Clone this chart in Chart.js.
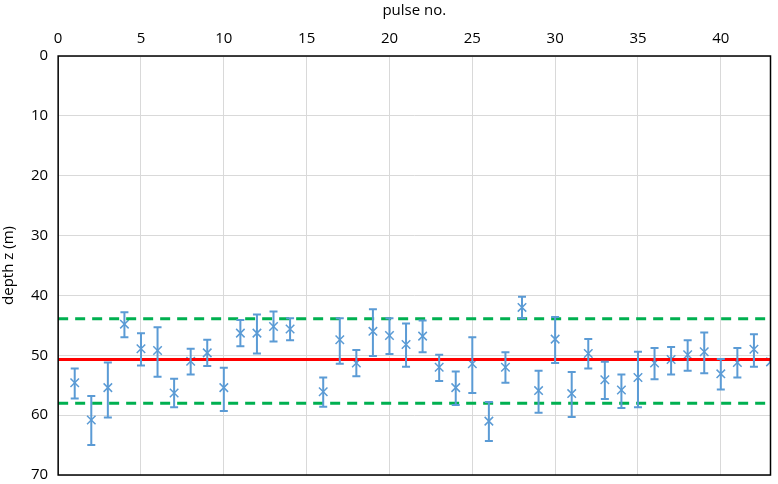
<!DOCTYPE html>
<html>
<head>
<meta charset="utf-8">
<script src="https://cdn.jsdelivr.net/npm/chart.js@4"></script>
<style>
  html, body { margin: 0; padding: 0; background: #fff; }
  #wrap { width: 778px; height: 484px; }
</style>
</head>
<body>
<div id="wrap"><canvas id="depthChart"></canvas></div>
<script>
const pulses = [1,2,3,4,5,6,7,8,9,10,11,12,13,14,16,17,18,19,20,21,22,23,24,25,26,27,28,29,30,31,32,33,34,35,36,37,38,39,40,41,42,43]
const depth = [54.6,60.8,55.4,44.8,48.9,49.2,56.3,51.0,49.6,55.4,46.3,46.3,45.2,45.6,56.1,47.4,51.3,46.0,46.7,48.2,46.8,52.0,55.4,51.4,61.0,52.0,42.0,55.9,47.3,56.4,49.7,54.1,55.8,53.7,51.3,50.7,49.9,49.4,53.1,51.2,49.0,51.1]
const depthTop = [52.2,56.8,51.2,42.8,46.3,45.3,53.9,48.9,47.4,52.1,44.1,43.2,42.7,43.8,53.7,43.8,49.1,42.3,43.8,44.7,44.2,49.9,52.7,47.0,57.8,49.5,40.2,52.6,43.6,52.8,47.3,51.1,53.2,49.4,48.8,48.6,47.5,46.2,50.6,48.8,46.5,51.1]
const depthBottom = [57.2,65.0,60.4,47.0,51.7,53.6,58.7,53.2,51.8,59.3,48.5,49.7,47.7,47.5,58.6,51.4,53.5,50.1,49.8,51.9,49.5,54.3,58.3,56.3,64.3,54.6,43.8,59.6,51.3,60.3,52.2,57.3,58.8,58.7,54.0,53.2,52.6,53.0,55.7,53.7,51.9,51.1]
const meanDepth = 50.7
const bandTop = 43.9
const bandBottom = 58.0
const xRange = [0, 43]

const blue = '#5b9bd5'

// error bars drawn through the chart scales
const errorBars = {
  id: 'errorBars',
  afterDatasetsDraw(chart) {
    const ctx = chart.ctx
    const xs = chart.scales.x
    const ys = chart.scales.y
    ctx.save()
    ctx.strokeStyle = blue
    ctx.lineWidth = 2
    pulses.forEach((p, i) => {
      const px = xs.getPixelForValue(p)
      const y1 = ys.getPixelForValue(depthTop[i])
      const y2 = ys.getPixelForValue(depthBottom[i])
      if (Math.abs(y2 - y1) < 1) return
      ctx.beginPath()
      ctx.moveTo(px, y1); ctx.lineTo(px, y2)
      ctx.moveTo(px - 4, y1); ctx.lineTo(px + 4, y1)
      ctx.moveTo(px - 4, y2); ctx.lineTo(px + 4, y2)
      ctx.stroke()
    })
    ctx.restore()
  }
}

// black frame round the plot area
const frame = {
  id: 'frame',
  afterDraw(chart) {
    const a = chart.chartArea
    const ctx = chart.ctx
    ctx.save()
    ctx.strokeStyle = '#000'
    ctx.lineWidth = 1.5
    ctx.strokeRect(a.left, a.top, a.right - a.left, a.bottom - a.top)
    ctx.restore()
  }
}

window.addEventListener('load', function () {
  Chart.defaults.font.family = "'Open Sans', sans-serif"
  Chart.defaults.color = '#000'
  const ctx = document.getElementById('depthChart').getContext('2d')
  new Chart(ctx, {
    type: 'scatter',
    data: {
      datasets: [
        {
          type: 'line',
          data: xRange.map(x => ({ x: x, y: bandTop })),
          borderColor: '#00b050',
          borderWidth: 3,
          borderDash: [10, 7],
          pointRadius: 0
        },
        {
          type: 'line',
          data: xRange.map(x => ({ x: x, y: bandBottom })),
          borderColor: '#00b050',
          borderWidth: 3,
          borderDash: [10, 7],
          pointRadius: 0
        },
        {
          type: 'line',
          data: xRange.map(x => ({ x: x, y: meanDepth })),
          borderColor: '#ff0000',
          borderWidth: 3,
          pointRadius: 0
        },
        {
          data: pulses.map((p, i) => ({ x: p, y: depth[i] })),
          pointStyle: 'crossRot',
          pointRadius: 6,
          borderColor: blue,
          backgroundColor: blue,
          borderWidth: 1.5
        }
      ]
    },
    options: {
      responsive: true,
      maintainAspectRatio: false,
      animation: false,
      layout: { padding: { top: 2, right: 5, bottom: 9, left: 0 } },
      plugins: {
        legend: { display: false },
        tooltip: { enabled: false }
      },
      scales: {
        x: {
          type: 'linear',
          position: 'top',
          min: 0,
          max: 43,
          ticks: {
            stepSize: 5,
            font: { size: 15 },
            padding: 8,
            callback: v => (v % 5 === 0 ? v : null)
          },
          grid: { color: '#d9d9d9', drawTicks: false },
          border: { display: false },
          title: { display: true, text: 'pulse no.', font: { size: 15 }, padding: { top: 0, bottom: 2 } }
        },
        y: {
          reverse: true,
          min: 0,
          max: 70,
          ticks: { stepSize: 10, font: { size: 15 }, padding: 10 },
          grid: { color: '#d9d9d9', drawTicks: false },
          border: { display: false },
          title: { display: true, text: 'depth z (m)', font: { size: 15 }, padding: { top: 0, bottom: 3 } },
          afterFit(scale) {
            scale.paddingBottom = 0
          }
        }
      }
    },
    plugins: [errorBars, frame]
  })
})
</script>
</body>
</html>
